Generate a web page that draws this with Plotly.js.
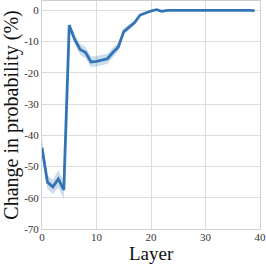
<!DOCTYPE html>
<html>
<head>
<script src="https://cdn.plot.ly/plotly-3.0.1.min.js"></script>
<style>html,body{margin:0;padding:0;background:#fff}#c{width:266px;height:266px}</style>
</head>
<body>
<div id="c"></div>
<script>
const layers = [0,1,2,3,4,5,6,7,8,9,10,11,12,13,14,15,16,17,18,19,20,21,22,23,24,25,26,27,28,29,30,31,32,33,34,35,36,37,38,39];
const meanChange = [-44,-55,-56.5,-54,-57.5,-4.8,-9.3,-12.5,-13.5,-16.5,-16.3,-15.9,-15.5,-13.5,-11.7,-6.8,-5.3,-3.9,-1.5,-0.8,-0.2,0.2,-0.3,0,0.1,0,0,0,0,0,0,0,0,0,0,0.1,0.2,0.2,0,-0.1];
const ciHalf = [3.0,2.2,2.3,2.8,2.8,0.8,1.5,1.8,1.8,1.7,1.7,1.7,1.6,1.6,1.4,1.0,0.9,0.7,0.5,0.4,0.3,0.3,0.3,0.2,0.2,0.2,0.2,0.2,0.2,0.2,0.2,0.2,0.2,0.2,0.2,0.2,0.2,0.2,0.2,0.2];
const yTicks = [0,-10,-20,-30,-40,-50,-60,-70];
const yTickText = ['0','-10','-20','-30','-40','-50','-60','-70'];
const xTicks = [0,10,20,30,40];
const xTitle = 'Layer';
const yTitle = 'Change in probability (%)';

const upper = meanChange.map((v,i)=>v+ciHalf[i]);
const lower = meanChange.map((v,i)=>v-ciHalf[i]);
const col = '#3274b5';
const traces = [
  {x: layers, y: upper, mode:'lines', line:{width:0}, hoverinfo:'skip', showlegend:false},
  {x: layers, y: lower, mode:'lines', line:{width:0}, fill:'tonexty', fillcolor:'rgba(50,116,181,0.25)', hoverinfo:'skip', showlegend:false},
  {x: layers, y: meanChange, mode:'lines', line:{color:col, width:2.8}, showlegend:false}
];
const font = {family:'"Liberation Serif","DejaVu Serif",serif', color:'#222'};
const layout = {
  width:266, height:266,
  margin:{l:42, r:6, t:1, b:37},
  paper_bgcolor:'#fff', plot_bgcolor:'#fff',
  font: font,
  xaxis:{range:[0,40], tickvals:xTicks, showgrid:true, gridcolor:'#dcdcdc', gridwidth:1, zeroline:false, ticklabelstandoff:-2,
         showline:true, linecolor:'#d0d0d0', mirror:true, ticks:'', tickfont:{size:11, family:font.family, color:'#333'}},
  yaxis:{range:[-70,3], tickvals:yTicks, ticktext:yTickText, showgrid:true, gridcolor:'#dcdcdc', gridwidth:1, zeroline:false,
         showline:true, linecolor:'#d0d0d0', mirror:true, ticks:'', tickfont:{size:11, family:font.family, color:'#333'},
         title:{text:yTitle, font:{size:20, family:font.family, color:'#111'}, standoff:3}},
  annotations:[{text:xTitle, xref:'paper', yref:'paper', x:0.5, y:0, xanchor:'center', yanchor:'top', yshift:-13, borderpad:0,
                showarrow:false, font:{size:19, family:font.family, color:'#111'}}]
};
Plotly.newPlot('c', traces, layout, {staticPlot:true, displayModeBar:false});
</script>
</body>
</html>
